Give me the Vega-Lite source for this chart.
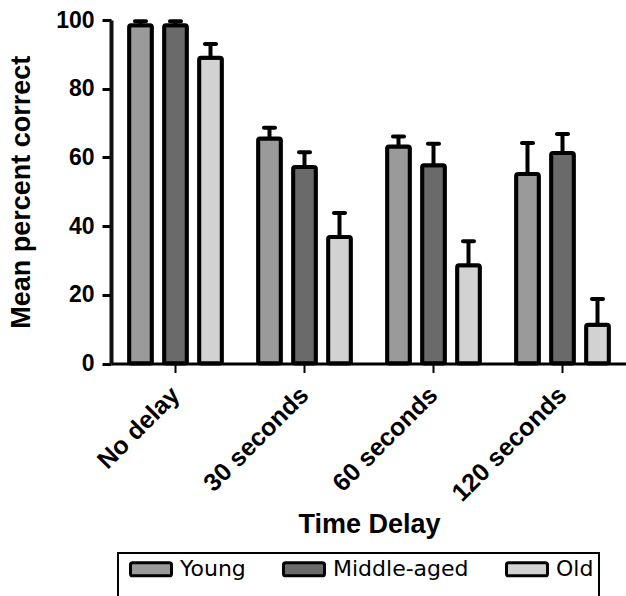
{
  "$schema": "https://vega.github.io/schema/vega-lite/v6.json",
  "width": 516,
  "height": 343.5,
  "autosize": {"type": "none"},
  "padding": {"left": 111, "top": 20, "right": 0, "bottom": 232},
  "background": "white",
  "config": {
    "view": {"stroke": null},
    "font": "Liberation Sans",
    "axisX": {
      "domainColor": "black", "domainWidth": 3, "tickColor": "black", "tickWidth": 2, "tickSize": 9,
      "labelAngle": -45, "labelAlign": "right", "labelBaseline": "middle", "labelPadding": 18,
      "labelFontSize": 25, "labelFontWeight": "bold", "labelColor": "black",
      "titleFontSize": 27, "titleFontWeight": "bold", "titleColor": "black", "titlePadding": 6
    },
    "axisLeft": {
      "domain": true, "domainColor": "#111111", "domainWidth": 4, "domainOpacity": 1, "tickColor": "black", "tickWidth": 3, "tickSize": 9,
      "labelFontSize": 23, "labelFontWeight": "bold", "labelColor": "black", "labelPadding": 8,
      "titleFontSize": 27, "titleFontWeight": "bold", "titleColor": "black", "titlePadding": 20,
      "grid": false, "zindex": 2
    }
  },
  "data": {
    "values": [
      {"delay": "No delay", "group": "Young", "mean": 98.5, "upper": 99.6},
      {"delay": "No delay", "group": "Middle-aged", "mean": 98.5, "upper": 99.6},
      {"delay": "No delay", "group": "Old", "mean": 89.0, "upper": 93.0},
      {"delay": "30 seconds", "group": "Young", "mean": 65.5, "upper": 68.6},
      {"delay": "30 seconds", "group": "Middle-aged", "mean": 57.2, "upper": 61.5},
      {"delay": "30 seconds", "group": "Old", "mean": 36.8, "upper": 43.8},
      {"delay": "60 seconds", "group": "Young", "mean": 63.2, "upper": 66.1},
      {"delay": "60 seconds", "group": "Middle-aged", "mean": 57.7, "upper": 64.0},
      {"delay": "60 seconds", "group": "Old", "mean": 28.6, "upper": 35.6},
      {"delay": "120 seconds", "group": "Young", "mean": 55.2, "upper": 64.2},
      {"delay": "120 seconds", "group": "Middle-aged", "mean": 61.3, "upper": 66.8},
      {"delay": "120 seconds", "group": "Old", "mean": 11.3, "upper": 18.8}
    ]
  },
  "encoding": {
    "x": {
      "field": "delay", "type": "nominal", "title": "Time Delay",
      "sort": ["No delay", "30 seconds", "60 seconds", "120 seconds"],
      "scale": {"paddingInner": 0.186, "paddingOuter": 0.093}
    },
    "xOffset": {
      "field": "group", "type": "nominal",
      "sort": ["Young", "Middle-aged", "Old"],
      "scale": {"paddingInner": 0.35, "paddingOuter": 0.175}
    },
    "y": {
      "field": "mean", "type": "quantitative", "title": "Mean percent correct",
      "scale": {"domain": [0, 100]},
      "axis": {"values": [0, 20, 40, 60, 80, 100], "domain": true, "domainColor": "#111111", "domainWidth": 4, "zindex": 2}
    }
  },
  "layer": [
    {
      "mark": {"type": "rule", "strokeWidth": 4, "color": "black"},
      "encoding": {
        "y2": {"field": "upper"}
      }
    },
    {
      "mark": {"type": "bar", "stroke": "black", "strokeWidth": 4, "cornerRadius": 2},
      "encoding": {
        "fill": {
          "field": "group", "type": "nominal",
          "scale": {"domain": ["Young", "Middle-aged", "Old"], "range": ["#9a9a9a", "#6a6a6a", "#d2d2d2"]},
          "legend": {
            "title": " ", "titleOrient": "bottom", "titleFontSize": 16, "titlePadding": 0,
            "orient": "none", "legendX": 7, "legendY": 533, "direction": "horizontal",
            "strokeColor": "black", "padding": 5, "cornerRadius": 0,
            "symbolType": "M -2.63,-0.93 L 2.63,-0.93 Q 2.93,-0.93 2.93,-0.63 L 2.93,0.63 Q 2.93,0.93 2.63,0.93 L -2.63,0.93 Q -2.93,0.93 -2.93,0.63 L -2.93,-0.63 Q -2.93,-0.93 -2.63,-0.93 Z",
            "symbolSize": 196, "symbolOffset": 17, "symbolStrokeColor": "black", "symbolStrokeWidth": 3, "symbolOpacity": 1,
            "labelFont": "DejaVu Sans", "labelFontSize": 22, "labelColor": "black", "labelOffset": 18, "columnPadding": 30,
            "encode": {"legend": {"update": {"strokeWidth": {"value": 2}}}}
          }
        }
      }
    },
    {
      "mark": {"type": "tick", "thickness": 4, "size": 15, "color": "black", "cornerRadius": 2, "opacity": 1},
      "encoding": {
        "y": {"field": "upper", "type": "quantitative"}
      }
    }
  ]
}
